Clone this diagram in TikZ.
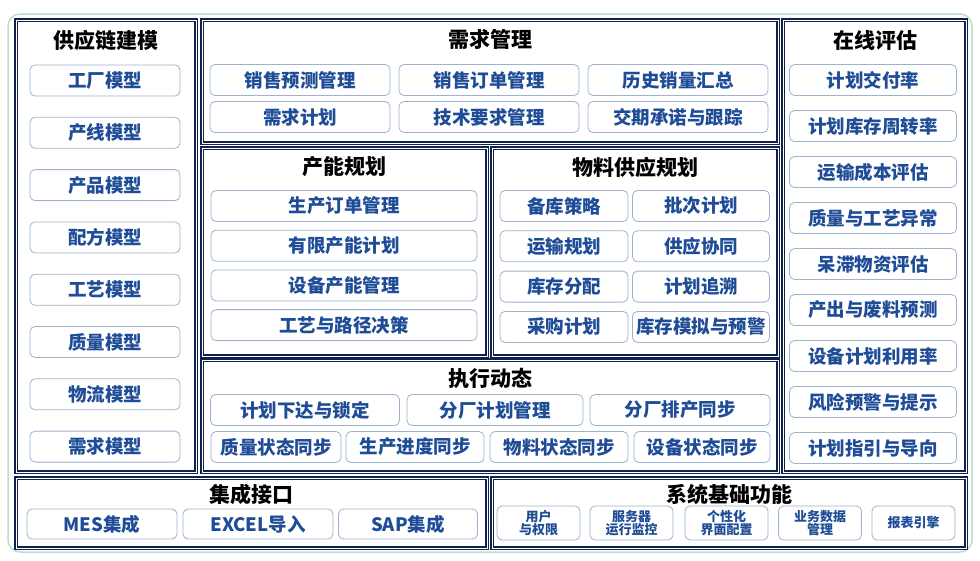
\documentclass[tikz,border=0pt]{standalone}
\usepackage{fontspec}
\setmainfont{Noto Sans CJK SC}
\usetikzlibrary{positioning}
\definecolor{navy}{HTML}{10224C}
\definecolor{itemblue}{HTML}{1F4C96}
\definecolor{itemline}{HTML}{9DB2CC}
\definecolor{framegreen}{HTML}{BFDCCB}
\tikzset{
  panel/.style={draw=navy, line width=1.4pt, double=white, double distance=1pt},
  title/.style={font=\fontsize{21}{21}\selectfont\bfseries, text=black},
  item/.style={draw=itemline, line width=0.8pt, rounded corners=5pt, fill=white, text=itemblue,
    font=\fontsize{18.5}{18.5}\selectfont\bfseries, inner sep=0pt, minimum height=31pt},
  smallitem/.style={item, font=\fontsize{13}{13}\selectfont\bfseries, align=center,
    minimum height=34pt, minimum width=83pt}
}
\begin{document}
\begin{tikzpicture}[x=1pt,y=-1pt]
        \useasboundingbox (0,0) rectangle (980,560);
        % outer frame
        \draw[framegreen, line width=1.5pt, rounded corners=12pt] (8,14) rectangle (972,552);
        % supply chain modelling
        \draw[panel] (16,20) rectangle (196,472);
        \node[title] (scm) at (106,40) {供应链建模};
        \foreach \name [count=\i] in {工厂模型,产线模型,产品模型,配方模型,工艺模型,质量模型,物流模型,需求模型}
            \node[item, minimum width=150pt] (scm\i) at (105,80.5+52.3*\i-52.3) {\name};
        % demand management
        \draw[panel] (202,20) rectangle (778,143);
        \node[title] (dem) at (490,39) {需求管理};
        \node[item, minimum width=180pt] (dem1) at (300,80) {销售预测管理};
        \node[item, minimum width=180pt] (dem2) at (489,80) {销售订单管理};
        \node[item, minimum width=180pt] (dem3) at (678,80) {历史销量汇总};
        \node[item, minimum width=180pt] (dem4) at (300,117) {需求计划};
        \node[item, minimum width=180pt] (dem5) at (489,117) {技术要求管理};
        \node[item, minimum width=180pt] (dem6) at (678,117) {交期承诺与跟踪};
        % capacity planning
        \draw[panel] (202,148) rectangle (487,356);
        \node[title] (cap) at (344,167) {产能规划};
        \foreach \name [count=\i] in {生产订单管理,有限产能计划,设备产能管理,工艺与路径决策}
            \node[item, minimum width=266pt] (cap\i) at (344,206+39.7*\i-39.7) {\name};
        % material supply planning
        \draw[panel] (492,148) rectangle (778,356);
        \node[title] (mat) at (635,167) {物料供应规划};
        \foreach \left/\right [count=\i] in {备库策略/批次计划,运输规划/供应协同,库存分配/计划追溯,采购计划/库存模拟与预警}{
            \node[item, minimum width=128pt] (matl\i) at (564,206+40.3*\i-40.3) {\left};
            \node[item, minimum width=137pt] (matr\i) at (701,206+40.3*\i-40.3) {\right};
        }
        % execution dynamics
        \draw[panel] (202,360) rectangle (778,472);
        \node[title] (exe) at (490,378) {执行动态};
        \node[item, minimum width=189pt] (exe1) at (305,410) {计划下达与锁定};
        \node[item, minimum width=176pt] (exe2) at (495,410) {分厂计划管理};
        \node[item, minimum width=180pt] (exe3) at (680,410) {分厂排产同步};
        \node[item, minimum width=130pt] (exe4) at (276,447) {质量状态同步};
        \node[item, minimum width=138pt] (exe5) at (415,447) {生产进度同步};
        \node[item, minimum width=138pt] (exe6) at (559,447) {物料状态同步};
        \node[item, minimum width=136pt] (exe7) at (702,447) {设备状态同步};
        % online evaluation
        \draw[panel] (783,20) rectangle (966,472);
        \node[title] (eva) at (875,40) {在线评估};
        \foreach \name [count=\i] in {计划交付率,计划库存周转率,运输成本评估,质量与工艺异常,呆滞物资评估,产出与废料预测,设备计划利用率,风险预警与提示,计划指引与导向}
            \node[item, minimum width=167pt] (eva\i) at (873,80+46*\i-46) {\name};
        % integration interfaces
        \draw[panel] (16,478) rectangle (487,548);
        \node[title] (itf) at (251,494) {集成接口};
        \node[item, minimum width=150pt, minimum height=30pt] (itf1) at (102,524) {MES集成};
        \node[item, minimum width=150pt, minimum height=30pt] (itf2) at (258,524) {EXCEL导入};
        \node[item, minimum width=139pt, minimum height=30pt] (itf3) at (408,524) {SAP集成};
        % system basics
        \draw[panel] (492,478) rectangle (966,548);
        \node[title] (sys) at (729,494) {系统基础功能};
        \node[smallitem] (sys1) at (538.5,523) {用户\\与权限};
        \node[smallitem] (sys2) at (631.5,523) {服务器\\运行监控};
        \node[smallitem] (sys3) at (726.5,523) {个性化\\界面配置};
        \node[smallitem] (sys4) at (820,523) {业务数据\\管理};
        \node[smallitem] (sys5) at (913.5,523) {报表引擎};
    \end{tikzpicture}
\end{document}
